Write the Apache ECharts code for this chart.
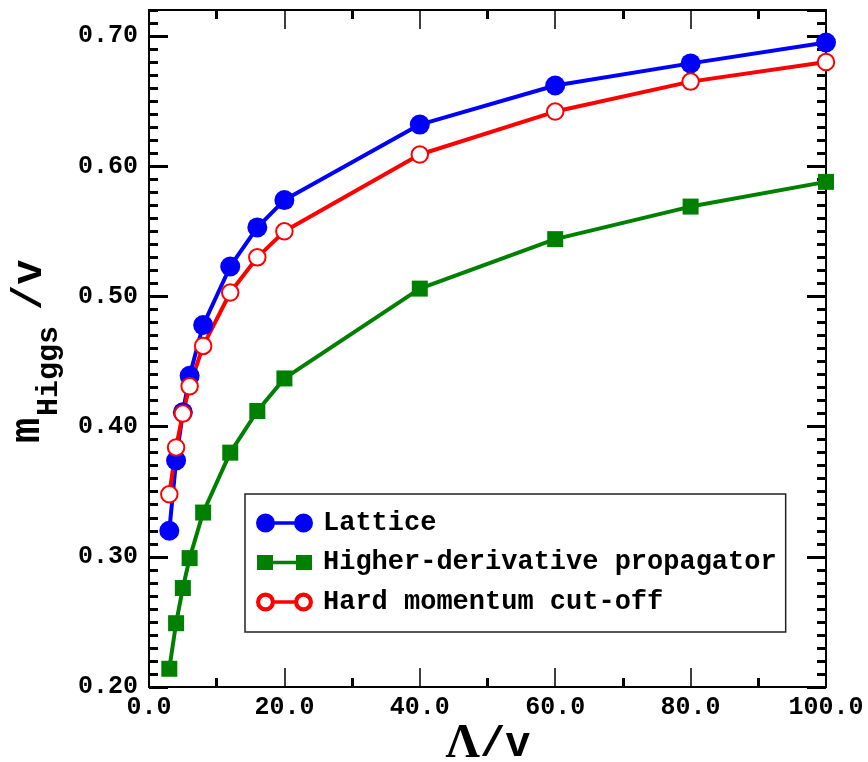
<!DOCTYPE html>
<html>
<head>
<meta charset="utf-8">
<script src="https://cdn.jsdelivr.net/npm/echarts@6/dist/echarts.min.js"></script>
<style>html,body{margin:0;padding:0;background:#fff}#c{width:868px;height:762px}</style>
</head>
<body>
<div id="c"></div>
<script>
const lambdaValues = [3, 4, 5, 6, 8, 12, 16, 20, 40, 60, 80, 100];
const lattice = [0.320, 0.374, 0.411, 0.439, 0.478, 0.523, 0.553, 0.574, 0.632, 0.662, 0.679, 0.695];
const higherDerivative = [0.214, 0.249, 0.276, 0.299, 0.334, 0.380, 0.412, 0.437, 0.506, 0.544, 0.569, 0.588];
const hardCutoff = [0.348, 0.384, 0.410, 0.431, 0.462, 0.503, 0.530, 0.550, 0.609, 0.642, 0.665, 0.680];
const seriesNames = ['Lattice', 'Higher-derivative propagator', 'Hard momentum cut-off'];
const xTickLabels = ['0.0', '20.0', '40.0', '60.0', '80.0', '100.0'];

const pair = (ys) => lambdaValues.map((x, i) => [x, ys[i]]);
const MONO = 'Liberation Mono';
const black = '#000';

const circ = (cx, r, cw) => cw
  ? `M${cx - r} 9.5 A${r} ${r} 0 1 1 ${cx + r} 9.5 A${r} ${r} 0 1 1 ${cx - r} 9.5 Z`
  : `M${cx - r} 9.5 A${r} ${r} 0 1 0 ${cx + r} 9.5 A${r} ${r} 0 1 0 ${cx - r} 9.5 Z`;
const iconDots = 'path://' + circ(9.5, 9.5, true) + ' ' + circ(47.5, 9.5, true) + ' M9 7.8 L48 7.8 L48 11.2 L9 11.2 Z';
const iconSquares = 'path://M1 2 L17 2 L17 17 L1 17 Z M40 2 L56 2 L56 17 L40 17 Z M17 7.8 L40 7.8 L40 11.2 L17 11.2 Z M0 0 L0.01 0 L0.01 0.01 Z M57 19 L56.99 19 L57 18.99 Z';
const iconRings = 'path://' + circ(9.5, 9.5, true) + ' ' + circ(9.5, 5.3, false) + ' ' + circ(47.5, 9.5, true) + ' ' + circ(47.5, 5.3, false) + ' M18.5 7.8 L38.5 7.8 L38.5 11.2 L18.5 11.2 Z';

function xAxisCfg(pos, showLabels) {
  return {
    type: 'value', position: pos, min: 0, max: 100, interval: 20,
    axisLine: { show: true, onZero: false, lineStyle: { color: black, width: 2 } },
    axisTick: { show: true, inside: true, length: 19, lineStyle: { color: black, width: 1.5 } },
    minorTick: { show: true, splitNumber: 2, length: 9, lineStyle: { color: black, width: 3 } },
    splitLine: { show: false }, minorSplitLine: { show: false },
    axisLabel: {
      show: showLabels, margin: 8, fontFamily: MONO, fontWeight: 'bold', fontSize: 25, color: black,
      formatter: (v) => xTickLabels[Math.round(v / 20)]
    }
  };
}
function yAxisCfg(pos, interval, len, showLabels) {
  return {
    type: 'value', position: pos, min: 0.2, max: 0.72, interval: interval,
    axisLine: { show: true, onZero: false, lineStyle: { color: black, width: 2 } },
    axisTick: { show: true, inside: true, length: len, lineStyle: { color: black, width: 3 } },
    splitLine: { show: false },
    axisLabel: {
      show: showLabels, margin: 11, fontFamily: MONO, fontWeight: 'bold', fontSize: 25, color: black,
      showMaxLabel: false, formatter: (v) => v.toFixed(2)
    }
  };
}

const chart = echarts.init(document.getElementById('c'), null, { renderer: 'canvas' });
chart.setOption({
  animation: false,
  backgroundColor: '#fff',
  grid: { left: 149, right: 42, top: 10, bottom: 75, containLabel: false },
  xAxis: [xAxisCfg('bottom', true), xAxisCfg('top', false)],
  yAxis: [
    yAxisCfg('left', 0.1, 19, true),
    yAxisCfg('left', 0.01, 9, false),
    yAxisCfg('right', 0.1, 19, false),
    yAxisCfg('right', 0.01, 9, false)
  ],
  legend: {
    orient: 'vertical', left: 245, top: 494,
    padding: [14, 9, 15, 11], itemGap: 9.5, itemWidth: 57, itemHeight: 19,
    borderColor: '#222', borderWidth: 1.5,
    textStyle: { fontFamily: MONO, fontWeight: 'bold', fontSize: 27, lineHeight: 30, color: black, padding: [0, 0, 0, 5] },
    data: [
      { name: seriesNames[0], icon: iconDots, itemStyle: { color: '#0000ff', borderWidth: 0 } },
      { name: seriesNames[1], icon: iconSquares, itemStyle: { color: '#008000', borderWidth: 0 } },
      { name: seriesNames[2], icon: iconRings, itemStyle: { color: '#ff0000', borderWidth: 0 } }
    ]
  },
  series: [
    {
      name: seriesNames[0], type: 'line', data: pair(lattice), xAxisIndex: 0, yAxisIndex: 0,
      symbol: 'circle', symbolSize: 20,
      lineStyle: { color: '#0000ff', width: 4 }, itemStyle: { color: '#0000ff' }
    },
    {
      name: seriesNames[1], type: 'line', data: pair(higherDerivative), xAxisIndex: 0, yAxisIndex: 0,
      symbol: 'rect', symbolSize: 16,
      lineStyle: { color: '#008000', width: 4 }, itemStyle: { color: '#008000' }
    },
    {
      name: seriesNames[2], type: 'line', data: pair(hardCutoff), xAxisIndex: 0, yAxisIndex: 0,
      symbol: 'emptyCircle', symbolSize: 16.5,
      lineStyle: { color: '#ff0000', width: 4 }, itemStyle: { color: '#ff0000', borderWidth: 4 }
    }
  ],
  graphic: [
    {
      type: 'group', x: 0, y: 443, rotation: Math.PI / 2,
      children: [
        { type: 'text', x: 0, y: 28, style: { text: 'm', font: 'bold 42px "Liberation Mono"', fill: black, align: 'left', verticalAlign: 'middle' } },
        { type: 'text', x: 27, y: 49, style: { text: 'Higgs', font: 'bold 30px "Liberation Mono"', fill: black, align: 'left', verticalAlign: 'middle' } },
        { type: 'text', x: 133, y: 30, style: { text: '/v', font: 'bold 42px "Liberation Mono"', fill: black, align: 'left', verticalAlign: 'middle' } }
      ]
    },
    {
      type: 'text', x: 488, y: 745,
      style: {
        text: '{a|Λ}{b|/v}', align: 'center', verticalAlign: 'middle',
        rich: {
          a: { font: 'bold 48px "Liberation Serif"', fill: black },
          b: { font: 'bold 42px "Liberation Mono"', fill: black }
        }
      }
    }
  ]
});
</script>
</body>
</html>
